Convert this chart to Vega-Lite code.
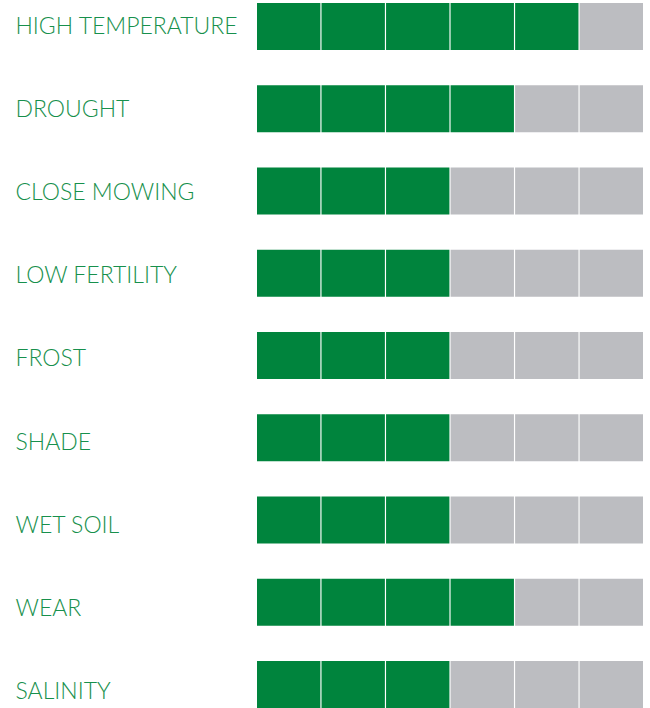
{
  "$schema": "https://vega.github.io/schema/vega-lite/v6.json",
  "width": 386,
  "height": 705,
  "autosize": "none",
  "padding": {"left": 257, "top": 3, "right": 7, "bottom": 0},
  "background": "white",
  "config": {"view": {"stroke": null}},
  "data": {"values": [
    {"factor": "HIGH TEMPERATURE", "cell": 1, "level": "on"},
    {"factor": "HIGH TEMPERATURE", "cell": 2, "level": "on"},
    {"factor": "HIGH TEMPERATURE", "cell": 3, "level": "on"},
    {"factor": "HIGH TEMPERATURE", "cell": 4, "level": "on"},
    {"factor": "HIGH TEMPERATURE", "cell": 5, "level": "on"},
    {"factor": "HIGH TEMPERATURE", "cell": 6, "level": "off"},
    {"factor": "DROUGHT", "cell": 1, "level": "on"},
    {"factor": "DROUGHT", "cell": 2, "level": "on"},
    {"factor": "DROUGHT", "cell": 3, "level": "on"},
    {"factor": "DROUGHT", "cell": 4, "level": "on"},
    {"factor": "DROUGHT", "cell": 5, "level": "off"},
    {"factor": "DROUGHT", "cell": 6, "level": "off"},
    {"factor": "CLOSE MOWING", "cell": 1, "level": "on"},
    {"factor": "CLOSE MOWING", "cell": 2, "level": "on"},
    {"factor": "CLOSE MOWING", "cell": 3, "level": "on"},
    {"factor": "CLOSE MOWING", "cell": 4, "level": "off"},
    {"factor": "CLOSE MOWING", "cell": 5, "level": "off"},
    {"factor": "CLOSE MOWING", "cell": 6, "level": "off"},
    {"factor": "LOW FERTILITY", "cell": 1, "level": "on"},
    {"factor": "LOW FERTILITY", "cell": 2, "level": "on"},
    {"factor": "LOW FERTILITY", "cell": 3, "level": "on"},
    {"factor": "LOW FERTILITY", "cell": 4, "level": "off"},
    {"factor": "LOW FERTILITY", "cell": 5, "level": "off"},
    {"factor": "LOW FERTILITY", "cell": 6, "level": "off"},
    {"factor": "FROST", "cell": 1, "level": "on"},
    {"factor": "FROST", "cell": 2, "level": "on"},
    {"factor": "FROST", "cell": 3, "level": "on"},
    {"factor": "FROST", "cell": 4, "level": "off"},
    {"factor": "FROST", "cell": 5, "level": "off"},
    {"factor": "FROST", "cell": 6, "level": "off"},
    {"factor": "SHADE", "cell": 1, "level": "on"},
    {"factor": "SHADE", "cell": 2, "level": "on"},
    {"factor": "SHADE", "cell": 3, "level": "on"},
    {"factor": "SHADE", "cell": 4, "level": "off"},
    {"factor": "SHADE", "cell": 5, "level": "off"},
    {"factor": "SHADE", "cell": 6, "level": "off"},
    {"factor": "WET SOIL", "cell": 1, "level": "on"},
    {"factor": "WET SOIL", "cell": 2, "level": "on"},
    {"factor": "WET SOIL", "cell": 3, "level": "on"},
    {"factor": "WET SOIL", "cell": 4, "level": "off"},
    {"factor": "WET SOIL", "cell": 5, "level": "off"},
    {"factor": "WET SOIL", "cell": 6, "level": "off"},
    {"factor": "WEAR", "cell": 1, "level": "on"},
    {"factor": "WEAR", "cell": 2, "level": "on"},
    {"factor": "WEAR", "cell": 3, "level": "on"},
    {"factor": "WEAR", "cell": 4, "level": "on"},
    {"factor": "WEAR", "cell": 5, "level": "off"},
    {"factor": "WEAR", "cell": 6, "level": "off"},
    {"factor": "SALINITY", "cell": 1, "level": "on"},
    {"factor": "SALINITY", "cell": 2, "level": "on"},
    {"factor": "SALINITY", "cell": 3, "level": "on"},
    {"factor": "SALINITY", "cell": 4, "level": "off"},
    {"factor": "SALINITY", "cell": 5, "level": "off"},
    {"factor": "SALINITY", "cell": 6, "level": "off"}
  ]},
  "mark": {"type": "rect"},
  "encoding": {
    "x": {
      "field": "cell", "type": "ordinal",
      "scale": {"paddingInner": 0.018, "paddingOuter": 0},
      "axis": null
    },
    "y": {
      "field": "factor", "type": "nominal", "sort": null,
      "scale": {"paddingInner": 0.4294, "paddingOuter": 0},
      "axis": {
        "title": null, "domain": false, "ticks": false,
        "labelAlign": "left", "labelBaseline": "middle",
        "labelPadding": 242, "labelLimit": 300,
        "labelFont": "Lato", "labelFontSize": 23, "labelFontWeight": 300,
        "labelColor": "#17904C",
        "labelOffset": {
          "condition": [
            {"test": "datum.value === 'DROUGHT'", "value": 1.3},
            {"test": "datum.value === 'CLOSE MOWING'", "value": 2.2},
            {"test": "datum.value === 'LOW FERTILITY'", "value": 3},
            {"test": "datum.value === 'FROST'", "value": 3.9},
            {"test": "datum.value === 'SHADE'", "value": 4.8},
            {"test": "datum.value === 'WET SOIL'", "value": 5.6},
            {"test": "datum.value === 'WEAR'", "value": 6.5},
            {"test": "datum.value === 'SALINITY'", "value": 7.3}
          ],
          "value": 0.5
        }
      }
    },
    "color": {
      "field": "level", "type": "nominal",
      "scale": {"domain": ["on", "off"], "range": ["#00843D", "#BCBDC1"]},
      "legend": null
    }
  }
}
